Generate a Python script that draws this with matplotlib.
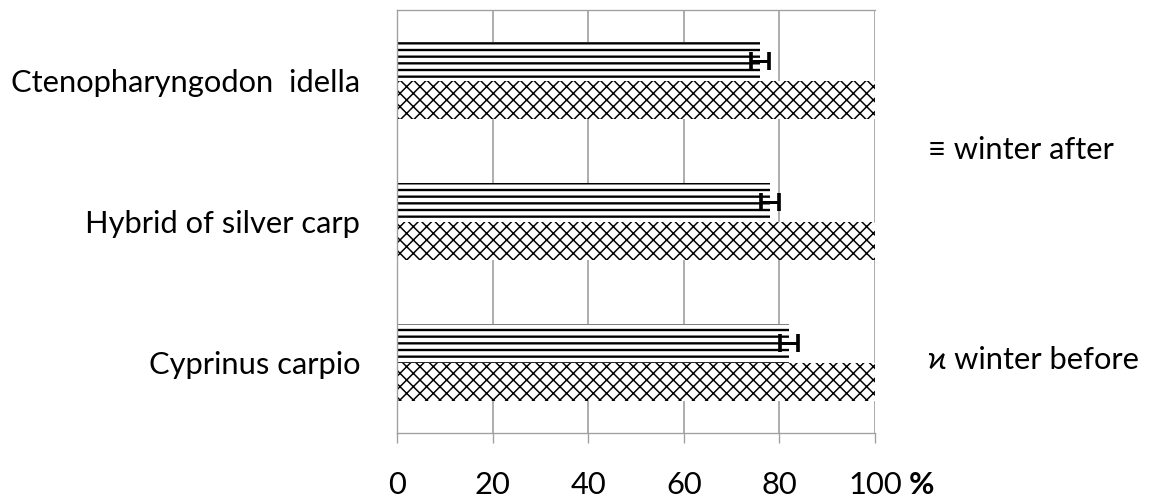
import matplotlib
matplotlib.use('Agg')
import matplotlib.pyplot as plt
import numpy as np

species = ['Ctenopharyngodon  idella', 'Hybrid of silver carp', 'Cyprinus carpio']
winter_after = [76.0, 78.0, 82.0]
winter_after_err = [1.9, 1.9, 1.8]
winter_before = [100.0, 100.0, 100.0]
ticks = [0, 20, 40, 60, 80, 100]

plt.rcParams['font.family'] = ['Lato', 'DejaVu Sans']

grey = '#a0a0a0'
fs = 18.5
fig = plt.figure(figsize=(9.6, 502 / 120), dpi=120)
ax = fig.add_axes([397 / 1152, 69 / 502, 478 / 1152, 423 / 502])

y = np.arange(len(species))[::-1]
h = 0.27

# hatch line width is read from rcParams when each patch is made
plt.rcParams['hatch.linewidth'] = 1.4
ax.barh(y + h / 2, winter_after, height=h, color='white', edgecolor='black',
        linewidth=0, hatch='---', zorder=2)
ax.errorbar(winter_after, y + h / 2, xerr=winter_after_err, fmt='none',
            ecolor='black', elinewidth=1.8, capsize=5.5, capthick=2.2, zorder=3)
plt.rcParams['hatch.linewidth'] = 0.9
ax.barh(y - h / 2, winter_before, height=h, color='white', edgecolor='black',
        linewidth=0, hatch='xxx', zorder=2)

ax.set_xlim(0, 100)
ax.set_ylim(-0.5, 2.5)
ax.set_xticks(ticks)
ax.set_yticks(y)
ax.set_yticklabels(species)
ax.grid(axis='x', color=grey, linewidth=1.0, zorder=0)
ax.set_axisbelow(True)

for s in ax.spines.values():
    s.set_color(grey)
ax.spines['right'].set_visible(False)
ax.tick_params(axis='x', direction='out', length=6, color=grey, pad=17, labelsize=fs)
ax.tick_params(axis='y', length=0, pad=22, labelsize=fs)

ax.annotate('%', xy=(100, 0), xycoords=('data', 'axes fraction'),
            xytext=(20, -31), textcoords='offset points', ha='left', va='center',
            fontsize=fs, fontweight='bold')

fig.text(928 / 1152, 1 - 150 / 502, '\u2261 winter after', fontsize=fs, va='center', ha='left')
fig.text(928 / 1152, 1 - 360 / 502, '\u03f0 winter before', fontsize=fs, va='center', ha='left')

fig.savefig('out.png', dpi=120)
